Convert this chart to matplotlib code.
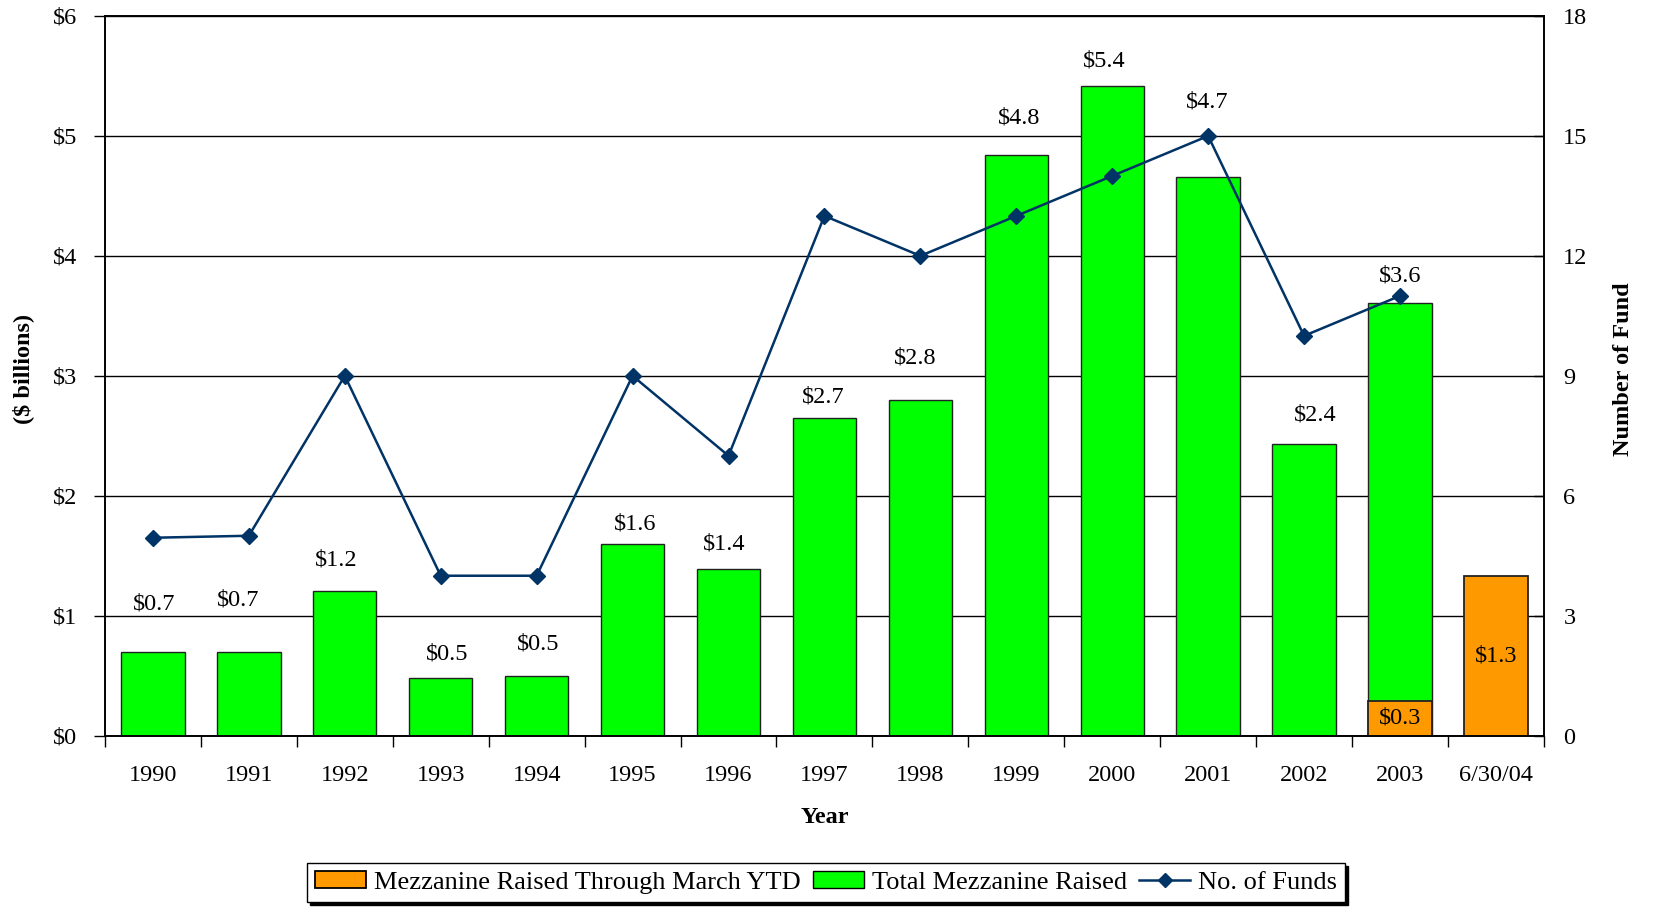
import matplotlib
matplotlib.use("Agg")
import matplotlib.pyplot as plt
from matplotlib.patches import Patch
from matplotlib.lines import Line2D
import numpy as np

categories = ["1990", "1991", "1992", "1993", "1994", "1995", "1996", "1997",
              "1998", "1999", "2000", "2001", "2002", "2003", "6/30/04"]
total_raised = [0.70, 0.70, 1.21, 0.48, 0.50, 1.60, 1.39, 2.65, 2.80, 4.84,
                5.42, 4.66, 2.43, 3.61, None]
ytd_raised = [None] * 13 + [0.29, 1.33]
num_funds = [4.95, 5, 9, 4, 4, 9, 7, 13, 12, 13, 14, 15, 10, 11, None]
total_labels = ["$0.7", "$0.7", "$1.2", "$0.5", "$0.5", "$1.6", "$1.4", "$2.7",
                "$2.8", "$4.8", "$5.4", "$4.7", "$2.4", "$3.6", None]
ytd_labels = [None] * 13 + ["$0.3", "$1.3"]
left_ticks = [0, 1, 2, 3, 4, 5, 6]
left_tick_labels = ["$0", "$1", "$2", "$3", "$4", "$5", "$6"]
right_ticks = [0, 3, 6, 9, 12, 15, 18]

# label placement offsets (points) relative to bar top: (dx, dy)
label_offsets = [(1, 34), (-8, 37), (-6, 22), (5, 17), (1, 23), (2, 14), (-3, 18),
                 (-1, 15), (-4, 30), (2, 27), (-6, 18), (-1, 54), (8, 21), (0, 19), None]

GREEN = "#00FF00"
ORANGE = "#FF9900"
NAVY = "#003366"
FS = 17.5
LFS = 19

plt.rcParams['font.family'] = ['Liberation Serif', 'DejaVu Serif']

fig = plt.figure(figsize=(16.53, 9.09), dpi=100)
ax = fig.add_axes([0.0635, 0.1907, 0.8705, 0.7917])
ax2 = ax.twinx()

x = np.arange(len(categories))
width = 0.66

tv = [v if v is not None else 0 for v in total_raised]
yv = [v if v is not None else 0 for v in ytd_raised]
ax.bar(x, tv, width=width, color=GREEN, edgecolor="#222222", linewidth=1.0, zorder=3)
ax.bar(x, yv, width=width, color=ORANGE, edgecolor="#222222", linewidth=1.3, zorder=4)

for i, (v, lab) in enumerate(zip(total_raised, total_labels)):
    if v is None or lab is None:
        continue
    dx, dy = label_offsets[i]
    ax.annotate(lab, (x[i], v), xytext=(dx, dy), textcoords="offset points",
                ha="center", va="center", fontsize=FS, zorder=6)
for i, (v, lab) in enumerate(zip(ytd_raised, ytd_labels)):
    if v is None or lab is None:
        continue
    ax.text(x[i], v / 2, lab, ha="center", va="center", fontsize=FS, zorder=6)

ax.set_ylim(0, 6)
ax.set_xlim(-0.5, len(categories) - 0.5)
ax.set_yticks(left_ticks)
ax.set_yticklabels(left_tick_labels, fontsize=FS)
ax.yaxis.grid(True, color="black", linewidth=1.0, zorder=0)
ax.set_axisbelow(True)
ax.tick_params(axis="y", direction="out", length=8, width=1, pad=12)

ax.set_xticks(x)
ax.set_xticklabels(categories, fontsize=FS)
ax.set_xticks(np.arange(-0.5, len(categories)), minor=True)
ax.tick_params(axis="x", which="major", length=0, pad=21)
ax.tick_params(axis="x", which="minor", length=8, width=1, direction="out")

fx = [xi for xi, n in zip(x, num_funds) if n is not None]
fy = [n for n in num_funds if n is not None]
ax2.plot(fx, fy, color=NAVY, linewidth=1.8, marker="D", markersize=8, zorder=5)
ax2.set_ylim(0, 18)
ax2.set_yticks(right_ticks)
ax2.set_yticklabels([str(t) for t in right_ticks], fontsize=FS)
ax2.tick_params(axis="y", direction="in", length=7, width=1, pad=14)

for a in (ax, ax2):
    for s in a.spines.values():
        s.set_linewidth(1.2)
        s.set_color("black")

ax.set_xlabel("Year", fontsize=FS, fontweight="bold", labelpad=15)
fig.text(0.014, 0.594, "($ billions)", rotation=90, ha="center", va="center",
         fontsize=FS, fontweight="bold")
fig.text(0.982, 0.594, "Number of Fund", rotation=90, ha="center", va="center",
         fontsize=FS, fontweight="bold")

handles = [Patch(facecolor=ORANGE, edgecolor="black", linewidth=1.3),
           Patch(facecolor=GREEN, edgecolor="black", linewidth=1.0),
           Line2D([0], [0], color=NAVY, linewidth=1.8, marker="D", markersize=7)]
labels = ["Mezzanine Raised Through March YTD", "Total Mezzanine Raised", "No. of Funds"]
leg = fig.legend(handles, labels, loc="center", bbox_to_anchor=(0.4997, 0.029),
                 ncol=3, fontsize=LFS, frameon=True, fancybox=False,
                 shadow={"color": "black", "alpha": 1.0},
                 edgecolor="black", handlelength=1.95, handleheight=0.6,
                 handletextpad=0.3, columnspacing=0.45, borderpad=0.3)
leg.get_frame().set_linewidth(1.0)

fig.savefig("out.png", dpi=100)
